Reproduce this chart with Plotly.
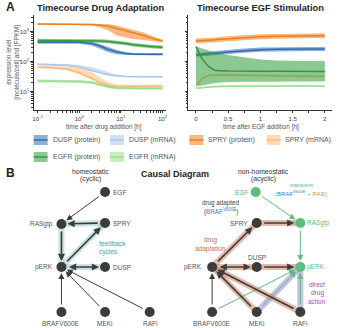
import plotly.graph_objects as go

# ---------------- Panel A data ----------------
t_drug = [0.1, 0.2, 0.5, 1, 2, 3, 5, 8, 13, 20, 35, 60, 100]

dusp_p = [437, 437, 437, 437, 398, 334, 251, 207, 185, 175, 174, 174, 174]
dusp_p_lo = [389, 389, 389, 389, 342, 271, 203, 174, 165, 158, 158, 158, 158]
dusp_p_hi = [482, 482, 482, 482, 447, 389, 304, 242, 207, 192, 189, 189, 189]

dusp_m = [80.7, 79.4, 75.3, 65.6, 52.1, 43, 36.1, 32.9, 31.6, 31.1, 31.1, 31.1, 31.1]
dusp_m_lo = [75, 74, 70, 61, 48.5, 40, 33.7, 30.6, 29.5, 29, 29, 29, 29]
dusp_m_hi = [87, 86, 82, 76.4, 65.6, 56.2, 44.7, 35.5, 33.4, 33.4, 33.4, 33.4, 33.4]

spry_p = [1780, 1780, 1780, 1770, 1710, 1650, 1490, 1260, 1080, 905, 736, 571, 482]
spry_p_lo = [1670, 1670, 1670, 1670, 1590, 1410, 1080, 736, 631, 562, 509, 471, 437]
spry_p_hi = [1880, 1880, 1880, 1880, 1880, 1880, 1780, 1585, 1360, 1122, 926, 708, 529]

spry_m = [64.1, 63.1, 56.2, 41.4, 27.1, 20.7, 15.8, 14.7, 14.7, 14.9, 15.3, 15.5, 15.6]
spry_m_lo = [58.5, 57.5, 51.3, 37.8, 24.7, 18.9, 14.4, 13.4, 13.4, 13.6, 14, 14.2, 14.3]
spry_m_hi = [70.8, 70.8, 68.1, 60.7, 44.7, 30.4, 20, 17.1, 16.7, 16.7, 16.7, 16.7, 16.7]

egfr_p = [501, 501, 501, 501, 494, 482, 464, 437, 398, 360, 329, 309, 297]
egfr_p_lo = [436, 436, 436, 436, 430, 420, 404, 381, 347, 314, 287, 269, 259]
egfr_p_hi = [575, 575, 575, 575, 567, 553, 533, 502, 457, 413, 378, 355, 341]

egfr_m = [22.4, 22.4, 22.4, 21.5, 20, 17.1, 14.4, 13.1, 12.8, 12.8, 12.8, 12.8, 12.8]
egfr_m_lo = [20, 20, 20, 19.2, 17.9, 15.3, 12.9, 11.7, 11.4, 11.4, 11.4, 11.4, 11.4]
egfr_m_hi = [25.1, 25.1, 25.1, 24.1, 22.4, 19.2, 16.1, 14.7, 14.3, 14.3, 14.3, 14.3, 14.3]

t_egf = [0, 0.05, 0.1, 0.2, 0.3, 0.5, 0.75, 1, 1.25, 1.5, 1.75, 2]

egf_dusp_p = [165, 167, 170, 178, 188, 207, 229, 246, 255, 259, 261, 261]
egf_dusp_p_lo = [143, 145, 147, 153, 161, 177, 196, 211, 219, 222, 224, 224]
egf_dusp_p_hi = [190, 193, 198, 210, 224, 248, 272, 290, 298, 302, 304, 304]

egf_spry_p = [482, 486, 490, 509, 529, 571, 627, 666, 692, 708, 719, 724]
egf_spry_p_lo = [400, 404, 408, 424, 441, 476, 523, 555, 577, 590, 600, 603]
egf_spry_p_hi = [580, 585, 590, 612, 636, 688, 755, 802, 832, 852, 865, 870]

egf_spry_m = [14.5, 20.7, 28.2, 34.1, 35.5, 35.5, 34.7, 34.1, 33.6, 32.9, 32.4, 31.6]
egf_spry_m_lo = [13.4, 19.2, 26.1, 31.6, 32.9, 32.9, 32.1, 31.6, 31.1, 30.5, 30, 29.3]
egf_spry_m_hi = [15.7, 22.4, 30.5, 36.8, 38.3, 38.3, 37.5, 36.8, 36.3, 35.5, 35, 34.1]

egf_egfr_p = [311, 188, 118, 67, 50, 48.2, 48.2, 47.5, 47.1, 47.1, 46.8, 46.4]
egf_egfr_p_lo = [16.5, 15.3, 16.5, 17.8, 19.2, 20.7, 21.5, 21.5, 21.5, 21.5, 21.5, 21.5]
egf_egfr_p_hi = [316, 293, 271, 233, 200, 165, 136, 117, 108, 104, 104, 104]

egf_egfr_m = [12.8, 13.1, 13.5, 14.1, 14.6, 15.0, 15.3, 15.3, 15.3, 15.3, 15.2, 15.0]
egf_egfr_m_lo = [12.1, 12.4, 12.8, 13.3, 13.8, 14.2, 14.5, 14.5, 14.5, 14.5, 14.4, 14.2]
egf_egfr_m_hi = [13.5, 13.8, 14.3, 14.9, 15.4, 15.8, 16.1, 16.1, 16.1, 16.1, 16.0, 15.8]

legend_labels = ["DUSP (protein)", "DUSP (mRNA)", "SPRY (protein)", "SPRY (mRNA)",
                 "EGFR (protein)", "EGFR (mRNA)"]

x_ticks_drug = [0.1, 1, 10, 100]
x_ticktext_drug = ["10<sup>-1</sup>", "10<sup>0</sup>", "10<sup>1</sup>", "10<sup>2</sup>"]
x_ticks_egf = [0, 0.5, 1, 1.5, 2]
y_ticks = [10, 100, 1000]
y_ticktext = ["10<sup>1</sup>", "10<sup>2</sup>", "10<sup>3</sup>"]

# ---------------- Panel B data ----------------
hl_names = ["EGF", "RASgtp", "SPRY", "pERK", "DUSP", "BRAFV600E", "MEKi", "RAFi"]
hl_x = [105, 61, 105, 61, 105, 61, 105, 150]
hl_y = [192, 224, 223, 267, 267, 312, 312, 312]
# (source, target, kind)
hl_edges = [(0, 1, "thin"), (2, 1, "cyc"), (1, 3, "cyc"), (3, 2, "cyc"),
            (3, 4, "cyc2"), (5, 3, "thin"), (6, 3, "thin"), (7, 3, "thin")]

nh_names = ["EGF", "SPRY", "RASgtp", "pERK", "DUSP", "pERK", "BRAFV600E", "MEKi", "RAFi"]
nh_x = [257, 258, 302, 213, 258, 302, 213, 258, 302]
nh_y = [192, 223, 223, 267, 267, 267, 312, 312, 312]
nh_green = [True, False, True, False, False, True, False, False, False]
nh_edges = [(0, 2, "green"), (2, 5, "green"), (1, 2, "adapt"), (3, 1, "adapt"),
            (3, 4, "adapt2"), (4, 5, "adapt"), (6, 3, "thin"), (6, 5, "green"),
            (7, 3, "adapt"), (7, 5, "direct"), (8, 3, "adapt"), (8, 5, "direct")]

# ---------------- styling ----------------
FONT = "Liberation Sans, Arial, Helvetica, sans-serif"
C = {"dusp_p": "#2f6db3", "dusp_m": "#aec7e8", "spry_p": "#f07d1a", "spry_m": "#ffbb78",
     "egfr_p": "#2f9a3a", "egfr_m": "#98df8a"}
FILL = {"dusp_p": "rgba(47,109,179,0.55)", "dusp_m": "rgba(174,199,232,0.55)",
        "spry_p": "rgba(240,125,26,0.55)", "spry_m": "rgba(255,187,120,0.55)",
        "egfr_p": "rgba(47,154,58,0.55)", "egfr_m": "rgba(152,223,138,0.55)"}
DARK = "#3c3c3c"
GREEN = "#5cbd7c"
GREY_TXT = "#555555"

fig = go.Figure()


def band(x, lo, hi, y, key, xa, ya):
    fig.add_trace(go.Scatter(x=list(x) + list(x)[::-1], y=list(hi) + list(lo)[::-1],
                             fill="toself", fillcolor=FILL[key], line=dict(width=0),
                             mode="lines", hoverinfo="skip", showlegend=False,
                             xaxis=xa, yaxis=ya))
    fig.add_trace(go.Scatter(x=x, y=y, mode="lines", line=dict(color=C[key], width=1.5),
                             showlegend=False, xaxis=xa, yaxis=ya))


band(t_drug, dusp_p_lo, dusp_p_hi, dusp_p, "dusp_p", "x", "y")
band(t_drug, dusp_m_lo, dusp_m_hi, dusp_m, "dusp_m", "x", "y")
band(t_drug, spry_p_lo, spry_p_hi, spry_p, "spry_p", "x", "y")
band(t_drug, spry_m_lo, spry_m_hi, spry_m, "spry_m", "x", "y")
band(t_drug, egfr_p_lo, egfr_p_hi, egfr_p, "egfr_p", "x", "y")
band(t_drug, egfr_m_lo, egfr_m_hi, egfr_m, "egfr_m", "x", "y")

band(t_egf, egf_dusp_p_lo, egf_dusp_p_hi, egf_dusp_p, "dusp_p", "x2", "y2")
band(t_egf, egf_spry_p_lo, egf_spry_p_hi, egf_spry_p, "spry_p", "x2", "y2")
band(t_egf, egf_spry_m_lo, egf_spry_m_hi, egf_spry_m, "spry_m", "x2", "y2")
band(t_egf, egf_egfr_p_lo, egf_egfr_p_hi, egf_egfr_p, "egfr_p", "x2", "y2")
band(t_egf, egf_egfr_m_lo, egf_egfr_m_hi, egf_egfr_m, "egfr_m", "x2", "y2")

# nodes of panel B (overlay axes in pixel-like units)
fig.add_trace(go.Scatter(x=hl_x, y=hl_y, mode="markers", marker=dict(size=10, color=DARK),
                         showlegend=False, hoverinfo="skip", xaxis="x3", yaxis="y3"))
fig.add_trace(go.Scatter(x=nh_x, y=nh_y, mode="markers",
                         marker=dict(size=10, color=[GREEN if g else DARK for g in nh_green]),
                         showlegend=False, hoverinfo="skip", xaxis="x3", yaxis="y3"))

ann = []
shapes = []


def txt(x, y, s, size=6.5, color=GREY_TXT, anchor="center", bold=False, angle=0):
    ann.append(dict(x=x, y=y, xref="x3", yref="y3", text=("<b>%s</b>" % s) if bold else s,
                    showarrow=False, xanchor=anchor, yanchor="middle", textangle=angle,
                    font=dict(family=FONT, size=size, color=color)))


def arrow(x0, y0, x1, y1, color, width, both=False, head=True):
    ann.append(dict(x=x1, y=y1, ax=x0, ay=y0, xref="x3", yref="y3", axref="x3", ayref="y3",
                    text="", showarrow=True, arrowhead=2 if head else 0, startarrowhead=2,
                    arrowside="end+start" if both else "end",
                    arrowsize=0.9 if width > 1.2 else 1.2, startarrowsize=0.9 if width > 1.2 else 1.2,
                    arrowwidth=width, arrowcolor=color, standoff=6, startstandoff=6))


def hilite(x0, y0, x1, y1, color, width=6):
    shapes.append(dict(type="line", x0=x0, y0=y0, x1=x1, y1=y1, xref="x3", yref="y3",
                       line=dict(color=color, width=width), layer="below"))


TEAL_HL = "rgba(140,190,195,0.45)"
SALMON_HL = "rgba(205,130,100,0.55)"
LAV_HL = "rgba(160,150,215,0.6)"

for s, d, k in hl_edges:
    x0, y0, x1, y1 = hl_x[s], hl_y[s], hl_x[d], hl_y[d]
    if k == "thin":
        arrow(x0, y0, x1, y1, DARK, 1.0)
    else:
        hilite(x0, y0, x1, y1, TEAL_HL)
        arrow(x0, y0, x1, y1, DARK, 1.6, both=(k == "cyc2"))

for s, d, k in nh_edges:
    x0, y0, x1, y1 = nh_x[s], nh_y[s], nh_x[d], nh_y[d]
    if k == "green":
        arrow(x0, y0, x1, y1, GREEN, 1.0)
    elif k == "thin":
        arrow(x0, y0, x1, y1, DARK, 1.0)
    elif k == "direct":
        hilite(x0, y0, x1, y1, LAV_HL)
        arrow(x0, y0, x1, y1, GREEN, 1.0)
    else:
        hilite(x0, y0, x1, y1, SALMON_HL)
        arrow(x0, y0, x1, y1, DARK, 1.6, both=(k == "adapt2"))

# ---- Panel A text ----
txt(3, 7, "A", size=12, color="#222", anchor="left", bold=True)
txt(100, 8, "Timecourse Drug Adaptation", size=9.3, color="#222", bold=True)
txt(262, 8, "Timecourse EGF Stimulation", size=9.3, color="#222", bold=True)
txt(8, 62, "expression level", size=6.3, angle=-90)
txt(16, 62, "[molecule/cell] and [FPKM]", size=6.3, angle=-90)
txt(104, 127, "time after drug addition [h]", size=6.5)
txt(262, 127, "time after EGF addition [h]", size=6.5)

# legend (manual)
leg_x = [33, 110, 190, 268]
leg_keys = ["dusp_p", "dusp_m", "spry_p", "spry_m", "egfr_p", "egfr_m"]
for i, (lab, key) in enumerate(zip(legend_labels, leg_keys)):
    lx = leg_x[i % 4]
    ly = 140 if i < 4 else 157
    shapes.append(dict(type="rect", x0=lx, x1=lx + 14, y0=ly - 5, y1=ly + 5, xref="x3", yref="y3",
                       fillcolor=FILL[key], line=dict(width=0)))
    shapes.append(dict(type="line", x0=lx, x1=lx + 14, y0=ly, y1=ly, xref="x3", yref="y3",
                       line=dict(color=C[key], width=1.5)))
    txt(lx + 17, ly, lab, size=7, anchor="left")

# ---- Panel B text ----
txt(3, 173, "B", size=12, color="#222", anchor="left", bold=True)
txt(90, 171, "homeostatic", size=6.8, color="#333")
txt(90, 178.5, "(cyclic)", size=6.8, color="#333")
txt(176, 174, "Causal Diagram", size=9, color="#222", bold=True)
txt(265, 171, "non-homeostatic", size=6.8, color="#333")
txt(265, 178.5, "(acyclic)", size=6.8, color="#333")

txt(111, 192, "EGF", anchor="left")
txt(54, 224, "RASgtp", anchor="right")
txt(111, 223, "SPRY", anchor="left")
txt(54, 267, "pERK", anchor="right")
txt(111, 267, "DUSP", anchor="left")
txt(61, 323, "BRAFV600E")
txt(105, 323, "MEKi")
txt(150, 323, "RAFi")
txt(97, 243, "feedback", color="#3aa6a6", anchor="left")
txt(97, 251.5, "cycles", color="#3aa6a6", anchor="left")

txt(251, 192, "EGF", color=GREEN, anchor="right")
txt(303, 185, "transient", size=6, color=GREEN)
txt(303, 193, "(<span style='color:#3a7dc0'>BRAF<sup>V600E</sup></span> + "
              "<span style='color:#f08a2c'>RAS</span>)", size=6, color=GREEN)
txt(222, 203, "drug adapted", size=6.3, color="#444")
txt(222, 211, "(<span style='color:#3a7dc0'>BRAF<sup>V600E</sup></span>)", size=6.3, color="#444")
txt(251, 223, "SPRY", anchor="right")
txt(307, 223, "RASgtp", color=GREEN, anchor="left")
txt(211, 240, "drug", color="#c0704e")
txt(211, 248.5, "adaptation", color="#c0704e")
txt(258, 257, "DUSP")
txt(205, 267, "pERK", anchor="right")
txt(307, 267, "pERK", color=GREEN, anchor="left")
txt(319, 284, "direct", color="#9b4fb5")
txt(319, 292.5, "drug", color="#9b4fb5")
txt(319, 301, "action", color="#9b4fb5")
txt(213, 323, "BRAFV600E")
txt(258, 323, "MEKi")
txt(302, 323, "RAFi")

# ---------------- layout ----------------
ax_common = dict(showline=True, linecolor="#333", linewidth=0.8, ticks="outside", ticklen=2.5,
                 tickwidth=0.8, tickcolor="#333", showgrid=False, zeroline=False,
                 tickfont=dict(family=FONT, size=6.2, color="#444"))
minor_y = dict(ticks="outside", ticklen=1.6, tickwidth=0.6, tickcolor="#333",
               tickvals=[3, 4, 5, 6, 7, 8, 9, 20, 30, 40, 50, 60, 70, 80, 90,
                         200, 300, 400, 500, 600, 700, 800, 900, 2000, 3000], showgrid=False)
minor_x = dict(ticks="outside", ticklen=1.6, tickwidth=0.6, tickcolor="#333",
               tickvals=[0.2, 0.3, 0.4, 0.5, 0.6, 0.7, 0.8, 0.9, 2, 3, 4, 5, 6, 7, 8, 9,
                         20, 30, 40, 50, 60, 70, 80, 90], showgrid=False)

ydom = [1 - 110 / 328, 1 - 15 / 328]
fig.update_layout(
    width=340, height=328, margin=dict(l=0, r=0, t=0, b=0),
    paper_bgcolor="white", plot_bgcolor="rgba(0,0,0,0)", showlegend=False,
    font=dict(family=FONT),
    xaxis=dict(domain=[33 / 340, 166 / 340], type="log", range=[-1.095, 2.071],
               tickvals=x_ticks_drug, ticktext=x_ticktext_drug, minor=minor_x,
               anchor="y", **ax_common),
    yaxis=dict(domain=ydom, type="log", range=[0.383, 3.55], tickvals=y_ticks,
               ticktext=y_ticktext, minor=minor_y, anchor="x", **ax_common),
    xaxis2=dict(domain=[189 / 340, 334 / 340], range=[-0.118, 2.112], tickvals=x_ticks_egf,
                ticktext=["0", "0.5", "1", "1.5", "2"],
                minor=dict(ticks="outside", ticklen=1.6, tickwidth=0.6, tickcolor="#333",
                           tickvals=[0.25, 0.75, 1.25, 1.75]),
                anchor="y2", **ax_common),
    yaxis2=dict(domain=ydom, type="log", range=[0.383, 3.55], tickvals=y_ticks,
                showticklabels=False, minor=minor_y, anchor="x2", **ax_common),
    xaxis3=dict(domain=[0, 1], range=[0, 340], visible=False, fixedrange=True),
    yaxis3=dict(domain=[0, 1], range=[328, 0], visible=False, fixedrange=True, anchor="x3"),
    annotations=ann, shapes=shapes,
)

fig.write_html("out.html", config={"displayModeBar": False},
               post_script="document.body.style.margin='0';document.body.style.overflow='hidden';")
